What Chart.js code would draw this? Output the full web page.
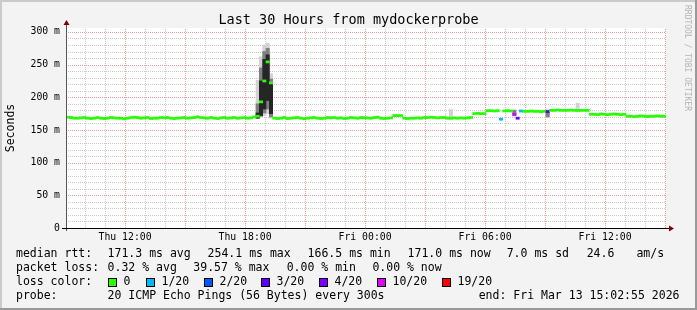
<!DOCTYPE html>
<html><head><meta charset="utf-8">
<script src="https://cdn.jsdelivr.net/npm/chart.js@4.4.1/dist/chart.umd.min.js"></script>
<style>html,body{margin:0;padding:0;background:#f3f3f3;overflow:hidden}#wrap{width:697px;height:310px;position:relative}</style>
</head><body><div id="wrap"><canvas id="c" width="697" height="310"></canvas></div>
<script>
// ---------- data ----------
const chartTitle = 'Last 30 Hours from mydockerprobe';
const yAxisTitle = 'Seconds';
const watermark = 'RRDTOOL / TOBI OETIKER';
const startMinute = 9 * 60 + 2 + 55 / 60;   // Thu 09:02:55, minutes since Thu 00:00
const spanMinutes = 30 * 60;
const stepMinutes = 10;
const medianMs = [
  169.5,169,168,168,168.5,169,168,167.5,168,169,
  168,167.5,168,169,168.5,168,168,167,168,169,
  169.5,169,168,168.5,169,167.5,168,168,169,168.5,
  169,168,167.5,168,168.5,169,168,168.5,169,170,
  169,168.5,168,169,168,167.5,168.5,169,168,168.5,
  169,168,168.5,169,168,168.5,170,
  171,193,225,254.1,222,
  168,167.5,168,169,167.5,168,168.5,169,
  168,167,168,168.5,169,168,167.5,168,169,168.5,
  169,168,168.5,167.5,168,169,168.5,168,169,168.5,
  168.5,168,169,169.5,168,167.5,168,168.5,
  172,172,172,
  168,167.5,168,168,168.5,168,
  169,169,169.5,169,168.5,169,169,
  168,168,168.5,168,168.5,168,168.5,
  169,
  175,175.5,175,175,
  179.5,179.5,179,179.5,
  166.5,
  179,179.5,179,
  174,
  168,
  179,
  178.5,178.5,179,178.5,178.5,178,178.5,
  178,
  180,180,180.5,180,180,180,180.5,180,180,180,180,180,
  174,174,173.5,174.5,174,173.5,174,174.5,174,173.5,174,
  171,171,170.5,171,171.5,171,170.5,171,171,171.5,171,171
];
const lossIndex = [130, 134, 135, 136, 144];
const lossCount = [1, 8, 3, 1, 3];
const smokeIndex = [57, 58, 59, 60, 61, 115, 134, 144, 153];
const smokeOuter = [[168,226],[170,262],[172,280],[175,283],[168,236],[166,181],[171,181],[169,181],[178,191]];
const smokeMid   = [[168,190],[171,245],[176,270],[182,275],[170,228],null,[172,180],[170,180],null];
const smokeCore  = [[168,176],[172,225],[182,258],[195,265],[175,220],null,null,null,null];
const yTickValues = [0, 50, 100, 150, 200, 250, 300];
const yTickLabels = ['0', '50 m', '100 m', '150 m', '200 m', '250 m', '300 m'];
const xTickMinutes = [720, 1080, 1440, 1800, 2160];
const xTickLabels = ['Thu 12:00', 'Thu 18:00', 'Fri 00:00', 'Fri 06:00', 'Fri 12:00'];
const lossThresholds = [0, 1, 2, 3, 4, 10, 19];
const lossColors = ['#26ff00', '#00b8ff', '#0059ff', '#5e00ff', '#7e00ff', '#dd00ff', '#ff0000'];
const lossLabels = ['0', '1/20', '2/20', '3/20', '4/20', '10/20', '19/20'];
const rttStats = ['171.3 ms avg', '254.1 ms max', '166.5 ms min', '171.0 ms now', '7.0 ms sd', '24.6', 'am/s'];
const lossStats = ['0.32 % avg', '39.57 % max', '0.00 % min', '0.00 % now'];
const rowLabels = ['median rtt:', 'packet loss:', 'loss color:', 'probe:'];
const probeText = '20 ICMP Echo Pings (56 Bytes) every 300s';
const endText = 'end: Fri Mar 13 15:02:55 2026';

// ---------- helpers ----------
const MONO = '"DejaVu Sans Mono", "Liberation Mono", monospace';
const medianHalfBand = 1.6; // drawing thickness of the median mark (ms)
const sampleX = i => startMinute + (i + 0.5) * stepMinutes;
function lossColor(n) {
  let c = lossColors[0];
  for (let k = 1; k < lossThresholds.length; k++) if (n > lossThresholds[k - 1]) c = lossColors[k];
  return c;
}
const lossAt = i => { const j = lossIndex.indexOf(i); return j < 0 ? 0 : lossCount[j]; };
const smokeData = layer => smokeIndex.map((k, j) => layer[j] ? { x: sampleX(k), y: layer[j] } : null).filter(Boolean);
const hourTicks = () => { const t = []; for (let m = Math.ceil(startMinute / 60) * 60; m <= startMinute + spanMinutes; m += 60) t.push(m); return t; };
const msTicks = () => { const t = []; for (let v = 0; v <= 300; v += 10) t.push(v); return t; };

// layout numbers
const L = { rttX: [107.6, 207.6, 307.6, 407.6, 506.7, 586.7, 636.4], lossX: [107.6, 193.3, 286.7, 372.4],
  swatchX: [108, 146, 204, 261, 319, 377, 442], rowY: [254, 268, 282, 296] };
const MINOR = 'rgba(150,150,150,0.5)';
const MAJOR = 'rgba(210,60,60,0.5)';

const frame = {
  id: 'frame',
  beforeDraw(chart) {
    const { ctx, chartArea: a, width: W, height: H } = chart;
    ctx.save();
    ctx.fillStyle = '#f3f3f3'; ctx.fillRect(0, 0, W, H);
    ctx.fillStyle = '#cbcbcb'; ctx.fillRect(0, 0, W, 2); ctx.fillRect(0, 0, 2, H);
    ctx.fillStyle = '#999999'; ctx.fillRect(0, H - 2, W, 2); ctx.fillRect(W - 2, 0, 2, H);
    ctx.fillStyle = '#ffffff'; ctx.fillRect(a.left, a.top, a.right - a.left, a.bottom - a.top);
    ctx.restore();
  },
  beforeDatasetsDraw(chart) {
    const { ctx, chartArea: a, scales: { x, y } } = chart;
    ctx.save();
    ctx.lineWidth = 1; ctx.setLineDash([1, 1]);
    hourTicks().forEach(m => {
      const px = Math.round(x.getPixelForValue(m)) + 0.5;
      ctx.strokeStyle = m % 180 === 0 ? MAJOR : MINOR;
      ctx.beginPath(); ctx.moveTo(px, a.bottom); ctx.lineTo(px, a.top); ctx.stroke();
    });
    msTicks().forEach(v => {
      if (v === 0) return;
      const py = Math.round(y.getPixelForValue(v)) + 0.5;
      ctx.strokeStyle = v % 50 === 0 ? MAJOR : MINOR;
      ctx.beginPath(); ctx.moveTo(a.left, py); ctx.lineTo(a.right, py); ctx.stroke();
    });
    ctx.restore();
  },
  afterDraw(chart) {
    const { ctx, chartArea: a, width: W } = chart;
    ctx.save();
    // axes
    ctx.lineWidth = 1;
    ctx.strokeStyle = '#555';
    ctx.beginPath(); ctx.moveTo(a.left + 0.5, a.bottom + 3); ctx.lineTo(a.left + 0.5, a.top - 3); ctx.stroke();
    ctx.strokeStyle = '#000';
    ctx.beginPath(); ctx.moveTo(a.left - 4, a.bottom + 0.5); ctx.lineTo(a.right + 3, a.bottom + 0.5); ctx.stroke();
    // arrows
    ctx.fillStyle = '#7f0000';
    ctx.beginPath(); ctx.moveTo(a.right + 3, a.bottom - 2.5); ctx.lineTo(a.right + 3, a.bottom + 3.5); ctx.lineTo(a.right + 8, a.bottom + 0.5); ctx.closePath(); ctx.fill();
    ctx.beginPath(); ctx.moveTo(a.left - 2.5, a.top - 3); ctx.lineTo(a.left + 3.5, a.top - 3); ctx.lineTo(a.left + 0.5, a.top - 8); ctx.closePath(); ctx.fill();
    // title
    ctx.fillStyle = '#000';
    ctx.font = '13.5px ' + MONO;
    ctx.textAlign = 'center'; ctx.textBaseline = 'alphabetic';
    ctx.fillText(chartTitle, W / 2, 24);
    // legend
    ctx.font = '11.5px ' + MONO;
    ctx.textAlign = 'left'; ctx.textBaseline = 'middle';
    rowLabels.forEach((t, r) => ctx.fillText(t, 16, L.rowY[r]));
    rttStats.forEach((t, k) => ctx.fillText(t, L.rttX[k], L.rowY[0]));
    lossStats.forEach((t, k) => ctx.fillText(t, L.lossX[k], L.rowY[1]));
    lossLabels.forEach((t, k) => {
      const x = L.swatchX[k], y = L.rowY[2];
      ctx.fillStyle = lossColors[k]; ctx.fillRect(x, y - 4, 9, 9);
      ctx.strokeStyle = '#000'; ctx.strokeRect(x + 0.5, y - 3.5, 8, 8);
      ctx.fillStyle = '#000'; ctx.fillText(t, x + 15.5, y);
    });
    ctx.fillText(probeText, 107.6, L.rowY[3]);
    ctx.fillText(endText, 478.7, L.rowY[3]);
    // watermark
    ctx.save();
    ctx.translate(684, 5); ctx.rotate(Math.PI / 2);
    ctx.fillStyle = '#b4b4b4'; ctx.font = '8px ' + MONO;
    ctx.textAlign = 'left'; ctx.textBaseline = 'middle';
    ctx.fillText(watermark, 0, -3);
    ctx.restore();
    ctx.restore();
  }
};

new Chart(document.getElementById('c'), {
  type: 'line',
  data: {
    datasets: [
      { data: medianMs.map((v, i) => ({ x: sampleX(i), y: [v - medianHalfBand, v + medianHalfBand] })),
        backgroundColor: medianMs.map((v, i) => lossColor(lossAt(i))), order: 0 },
      { data: smokeData(smokeCore), backgroundColor: '#262626', order: 1 },
      { data: smokeData(smokeMid), backgroundColor: '#808080', order: 2 },
      { data: smokeData(smokeOuter), backgroundColor: '#d2d2d2', order: 3 }
    ].map(d => Object.assign(d, { type: 'bar', barPercentage: 1, categoryPercentage: 1, grouped: false, borderWidth: 0 }))
  },
  options: {
    responsive: false, animation: false, events: [],
    layout: { padding: { left: 0, right: 31, top: 28, bottom: 0 } },
    plugins: { legend: { display: false }, tooltip: { enabled: false }, title: { display: false } },
    scales: {
      x: {
        type: 'linear', min: startMinute, max: startMinute + spanMinutes, offset: false,
        afterBuildTicks: s => { s.ticks = xTickMinutes.map(v => ({ value: v })); },
        afterFit: s => { s.height = 82; },
        grid: { display: false, drawTicks: false },
        border: { display: false },
        ticks: { autoSkip: false, maxRotation: 0, minRotation: 0, padding: 4, color: '#000', font: { family: MONO, size: 9.8 },
          callback: v => { const j = xTickMinutes.indexOf(v); return j < 0 ? '' : xTickLabels[j]; } }
      },
      y: {
        type: 'linear', min: 0, max: 306,
        afterBuildTicks: s => { s.ticks = yTickValues.map(v => ({ value: v })); },
        afterFit: s => { s.width = 66; },
        grid: { display: false, drawTicks: false },
        border: { display: false },
        title: { display: true, text: yAxisTitle, color: '#000', font: { family: MONO, size: 11.5 }, padding: { top: 4, bottom: 0 } },
        ticks: { autoSkip: false, padding: 6, color: '#000', font: { family: MONO, size: 9.8 },
          callback: v => { const j = yTickValues.indexOf(v); return j < 0 ? '' : yTickLabels[j]; } }
      }
    }
  },
  plugins: [frame]
});
</script></body></html>
